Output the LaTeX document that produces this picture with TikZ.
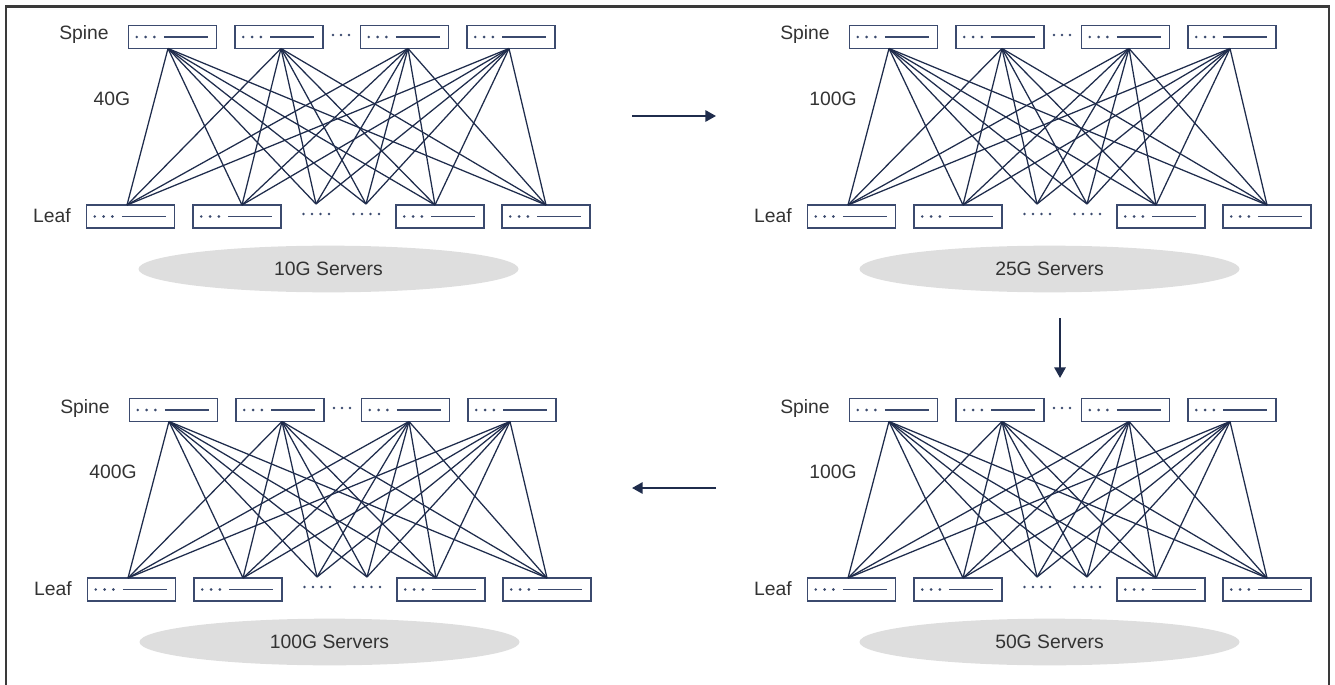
\documentclass[tikz,border=0pt]{standalone}
\usepackage{fontspec}
\setmainfont{Liberation Sans}
\usetikzlibrary{arrows.meta,shapes.geometric}

\definecolor{navy}{HTML}{1F2C4C}
\definecolor{boxc}{HTML}{3B4A6E}
\definecolor{txt}{HTML}{333333}
\definecolor{cloud}{HTML}{DEDEDE}
\definecolor{framec}{HTML}{3A3A3A}

\tikzset{
  lbl/.style={text=txt, font=\fontsize{14.5pt}{16pt}\selectfont, inner sep=0pt},
  switchbox/.style={draw=boxc, line width=1.1pt, minimum width=66pt, minimum height=17.5pt,
    inner sep=0pt, fill=white,
    path picture={
      \foreach \d in {6.2,12.8,19.4}
        \fill[boxc] ([xshift=\d pt]path picture bounding box.west) circle (1.1pt);
      \draw[boxc, line width=0.95pt] ([xshift=26.5pt]path picture bounding box.west)
        -- ([xshift=59.5pt]path picture bounding box.west);
    }},
  link/.style={draw=navy, line width=0.95pt},
  servers/.style={ellipse, fill=cloud, minimum width=285pt, minimum height=35pt,
    text=txt, font=\fontsize{14.5pt}{16pt}\selectfont, inner sep=0pt},
  flow/.style={draw=navy, line width=1.6pt, -{Triangle[length=8pt,width=8.5pt]}},
  gapdot/.style={fill=boxc},
}

% one spine-leaf fabric: #1 name prefix, #2/#3 offset, #4 link speed, #5 server tier
\newcommand{\fabricpanel}[5]{%
  \begin{scope}[shift={(#2,#3)}]
    \node[lbl] (#1spinelbl) at (84,35) {Spine};
    \node[lbl] (#1leaflbl) at (52,216) {Leaf};
    \node[lbl] (#1speed) at (112,99) {#4};
    % spine switches and their uplink points
    \foreach \i/\x/\a in {1/172.5/168,2/279/281,3/404.5/408,4/511/509} {
      \node[switchbox] (#1s\i) at (\x,37) {};
      \coordinate (#1sa\i) at (\a,48.5);
    }
    \foreach \x in {333,341,349} \fill[gapdot] (\x,35) circle (1pt);
    % leaf switches and their downlink points
    \foreach \i/\x/\a in {1/130.5/127,2/237/242,5/440/435,6/546/546} {
      \node[switchbox] (#1l\i) at (\x,216.5) {};
      \coordinate (#1la\i) at (\a,205);
    }
    \coordinate (#1la3) at (316,204);
    \coordinate (#1la4) at (366,204);
    \foreach \x in {303.5,312,320.5,329,353.5,362,370.5,379} \fill[gapdot] (\x,214) circle (1pt);
    % full mesh between the spine and leaf layers
    \foreach \i in {1,...,4}
      \foreach \j in {1,...,6}
        \draw[link] (#1sa\i) -- (#1la\j);
    \node[servers] (#1srv) at (328.5,269) {#5};
  \end{scope}}

\begin{document}
\begin{tikzpicture}[x=0.75pt,y=-0.75pt]
  \useasboundingbox (0,0) rectangle (1335,685);
  \draw[framec, line width=1.8pt] (6,690) -- (6,6.5) -- (1329,6.5) -- (1329,690);

  \fabricpanel{a}{0}{0}{40G}{10G Servers}
  \fabricpanel{b}{721}{0}{100G}{25G Servers}
  \fabricpanel{c}{721}{373}{100G}{50G Servers}
  \fabricpanel{d}{1}{373}{400G}{100G Servers}

  % migration path between the generations
  \coordinate (ab1) at (632,116);
  \coordinate (ab2) at (716,116);
  \coordinate (bc1) at (1060,318);
  \coordinate (bc2) at (1060,378);
  \coordinate (cd1) at (716,488);
  \coordinate (cd2) at (632,488);
  \draw[flow] (ab1) -- (ab2);
  \draw[flow] (bc1) -- (bc2);
  \draw[flow] (cd1) -- (cd2);
\end{tikzpicture}
\end{document}
